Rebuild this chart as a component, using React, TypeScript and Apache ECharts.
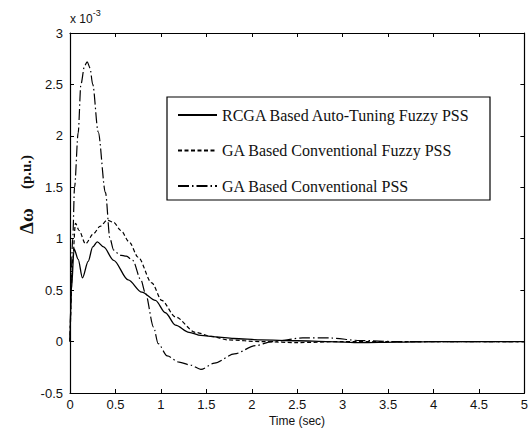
import React, { useEffect, useRef } from "react";
import * as echarts from "echarts";

const seriesNames = [
  "RCGA Based Auto-Tuning Fuzzy PSS",
  "GA Based Conventional Fuzzy PSS",
  "GA Based Conventional PSS",
];

const timeRcga = [0, 0.015, 0.045, 0.09, 0.137, 0.2, 0.25, 0.3, 0.37, 0.48, 0.64, 0.79, 0.94, 1.05, 1.16, 1.31, 1.44, 1.6, 1.8, 2.1, 2.5, 2.85, 3.2, 3.6, 4.0, 4.5, 5.0];
const valRcga = [0, 0.5, 0.9, 0.8, 0.62, 0.78, 0.92, 0.97, 0.92, 0.79, 0.6, 0.48, 0.4, 0.28, 0.16, 0.09, 0.06, 0.045, 0.03, 0.016, 0.008, 0, -0.01, -0.005, 0, 0, 0];

const timeFuzzy = [0, 0.03, 0.06, 0.1, 0.17, 0.26, 0.33, 0.41, 0.48, 0.56, 0.65, 0.75, 0.9, 1.01, 1.16, 1.38, 1.56, 1.74, 2.1, 2.5, 3.0, 3.5, 4.0, 4.5, 5.0];
const valFuzzy = [0, 0.8, 1.15, 1.08, 0.95, 1.05, 1.12, 1.18, 1.16, 1.08, 0.97, 0.82, 0.57, 0.4, 0.24, 0.09, 0.05, 0.016, 0, -0.01, 0, 0, 0, 0, 0];

const timeConv = [0, 0.03, 0.05, 0.09, 0.12, 0.16, 0.19, 0.22, 0.25, 0.31, 0.39, 0.44, 0.48, 0.55, 0.62, 0.69, 0.78, 0.83, 0.92, 0.97, 1.07, 1.2, 1.33, 1.44, 1.59, 1.81, 2.04, 2.22, 2.56, 2.85, 3.2, 3.6, 4.0, 4.5, 5.0];
const valConv = [0, 1.0, 1.5, 2.03, 2.5, 2.68, 2.72, 2.66, 2.5, 2.04, 1.45, 1.0, 0.89, 0.84, 0.83, 0.79, 0.6, 0.47, 0.14, -0.02, -0.14, -0.2, -0.23, -0.27, -0.21, -0.12, -0.04, 0, 0.035, 0.035, 0.01, 0, 0, 0, 0];

const xTickMin = 0;
const xTickMax = 5;
const xTickStep = 0.5;
const yTickMin = -0.5;
const yTickMax = 3;
const yTickStep = 0.5;

const pair = (t: number[], v: number[]) => t.map((x, i) => [x, v[i]]);

const SANS = "'Liberation Sans', Arial, sans-serif";
const SERIF = "'Liberation Serif', 'Times New Roman', serif";

export default function App() {
  const ref = useRef<HTMLDivElement>(null);
  useEffect(() => {
    if (!ref.current) return;
    const chart = echarts.init(ref.current, undefined, { renderer: "svg" });
    const axisCommon = {
      type: "value" as const,
      axisLine: { show: true, onZero: false, lineStyle: { color: "#000", width: 1.2 } },
      axisTick: { show: true, inside: true, length: 4, lineStyle: { color: "#000" } },
      splitLine: { show: false },
    };
    const lineBase = { type: "line" as const, symbol: "none", smooth: 0.3, smoothMonotone: "x" as const, animation: false };
    chart.setOption({
      animation: false,
      backgroundColor: "#fff",
      grid: { left: 70, right: 5, top: 33, bottom: 36, containLabel: false },
      xAxis: [
        {
          ...axisCommon,
          position: "bottom",
          min: xTickMin,
          max: xTickMax,
          interval: xTickStep,
          axisLabel: { color: "#111", fontFamily: SANS, fontSize: 13, margin: 5 },
        },
        {
          ...axisCommon,
          position: "top",
          min: xTickMin,
          max: xTickMax,
          interval: xTickStep,
          axisLabel: { show: false },
        },
      ],
      yAxis: [
        {
          ...axisCommon,
          position: "left",
          min: yTickMin,
          max: yTickMax,
          interval: yTickStep,
          axisLabel: { color: "#111", fontFamily: SANS, fontSize: 13, margin: 7 },
        },
        {
          ...axisCommon,
          position: "right",
          min: yTickMin,
          max: yTickMax,
          interval: yTickStep,
          axisLabel: { show: false },
        },
      ],
      legend: {
        left: 177,
        top: 106,
        orient: "vertical",
        itemWidth: 39,
        itemHeight: 18,
        itemGap: 17.5,
        padding: 0,
        itemStyle: { opacity: 0 },
        textStyle: { fontFamily: SERIF, fontSize: 16, color: "#111", lineHeight: 18 },
        data: seriesNames,
      },
      graphic: [
        {
          type: "rect",
          shape: { x: 167, y: 97, width: 323, height: 103 },
          style: { fill: "none", stroke: "#000", lineWidth: 1.2 },
          z: 10,
        },
        {
          type: "text",
          x: 70,
          y: 25,
          style: {
            text: "{a|x 10}{b|-3}",
            verticalAlign: "bottom",
            rich: {
              a: { fontFamily: SANS, fontSize: 12, fill: "#111", verticalAlign: "bottom" },
              b: { fontFamily: SANS, fontSize: 9, fill: "#111", verticalAlign: "top", padding: [0, 0, 8, 0] },
            },
          },
        },
        {
          type: "text",
          x: 26,
          y: 221,
          rotation: Math.PI / 2,
          style: {
            text: "Δω",
            align: "center",
            verticalAlign: "middle",
            fontFamily: SERIF,
            fontSize: 19,
            fontWeight: "bold",
            fill: "#111",
          },
        },
        {
          type: "text",
          x: 26,
          y: 172,
          rotation: Math.PI / 2,
          style: {
            text: "(p.u.)",
            align: "center",
            verticalAlign: "middle",
            fontFamily: SERIF,
            fontSize: 15,
            fontWeight: "bold",
            fill: "#111",
          },
        },
        {
          type: "text",
          x: 297,
          y: 421,
          style: {
            text: "Time (sec)",
            align: "center",
            verticalAlign: "middle",
            fontFamily: SANS,
            fontSize: 12,
            fill: "#111",
          },
        },
      ],
      series: [
        {
          ...lineBase,
          name: seriesNames[0],
          data: pair(timeRcga, valRcga),
          lineStyle: { color: "#000", width: 1.3, type: "solid" },
          itemStyle: { color: "#000" },
        },
        {
          ...lineBase,
          name: seriesNames[1],
          data: pair(timeFuzzy, valFuzzy),
          lineStyle: { color: "#000", width: 1.2, type: [4, 2.5] },
          itemStyle: { color: "#000" },
        },
        {
          ...lineBase,
          name: seriesNames[2],
          data: pair(timeConv, valConv),
          lineStyle: { color: "#000", width: 1.2, type: [11, 3, 1.5, 3] },
          itemStyle: { color: "#000" },
        },
      ],
    });
    return () => chart.dispose();
  }, []);
  return (
    <div
      ref={ref}
      style={{ position: "absolute", left: 0, top: 0, width: 531, height: 429, background: "#fff" }}
    />
  );
}
